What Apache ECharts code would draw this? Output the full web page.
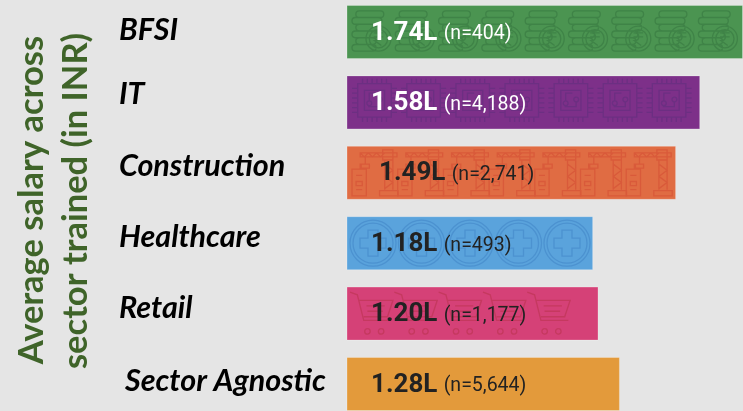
<!DOCTYPE html>
<html><head><meta charset="utf-8">
<style>html,body{margin:0;padding:0;background:#e5e5e5}#c{width:743px;height:411px}</style>
<script src="https://cdn.jsdelivr.net/npm/echarts@6/dist/echarts.min.js"></script>
</head><body><div id="c"></div>
<script>
const sectors = ['BFSI','IT','Construction','Healthcare','Retail','Sector Agnostic'];
const salaryLakh = [1.74,1.58,1.49,1.18,1.20,1.28];
const sampleLabels = ['(n=404)','(n=4,188)','(n=2,741)','(n=493)','(n=1,177)','(n=5,644)'];
const barColors = ['#4b9451','#7d3089','#e06c43','#5aa3dc','#d54177','#e39a3b'];
const iconColors = ['#3f8347','#6c2f82','#d95a3a','#4c92d0','#c5395f',null];
const textColors = ['#ffffff','#ffffff','#222222','#222222','#222222','#222222'];

const COIN = 'M6 1H28a3 3 0 0 1 0 7H6a3 3 0 0 1 0-7ZM2 8H26a3 3 0 0 1 0 7H2a3 3 0 0 1 0-7ZM6 15H26a3 3 0 0 1 0 7H6a3 3 0 0 1 0-7ZM2 22H22a3 3 0 0 1 0 7H2a3 3 0 0 1 0-7ZM6 29H20a3 3 0 0 1 0 7H6a3 3 0 0 1 0-7ZM2 36H20a3 3 0 0 1 0 7H2a3 3 0 0 1 0-7Z'
 +'M13 30a13 13 0 1 0 26 0a13 13 0 1 0-26 0ZM16.500 30a9.500 9.500 0 1 0 19 0a9.500 9.500 0 1 0-19 0ZM21 24H31M21 28H31M22 24C28 24 28 32 22 32L29 37';
const CHIP = 'M6 6H41V41H6ZM13 13H34V34H13ZM11 6V1M16 6V1M21 6V1M26 6V1M31 6V1M36 6V1M11 41V46M16 41V46M21 41V46M26 41V46M31 41V46M36 41V46'
 +'M6 11H0M6 16H0M6 21H0M6 26H0M6 31H0M6 36H0M41 11H47M41 16H47M41 21H47M41 26H47M41 31H47M41 36H47'
 +'M18 24a2.500 2.500 0 1 0 .1 0M29 20a2.500 2.500 0 1 0 .1 0M18 24V16H25M29 25V30H17';
const CRANE = 'M8 1H44V5H8ZM8 1L12 5L16 1L20 5L24 1L28 5L32 1M30 -2H40V8H30ZM13 5V12M9 12H17V16H9ZM32 8V37M40 8V37M32 12L40 18L32 24L40 30L32 36M27 38H45V43H27Z'
 +'M0 17H14V43H0ZM8 17V12H14M4 23H10M4 29H10V33H4ZM4 37H10';
const CROSS = 'M0 0m-23 0a23 23 0 1 0 46 0a23 23 0 1 0-46 0M0 0m-20 0a20 20 0 1 0 40 0a20 20 0 1 0-40 0'
 +'M-5 -13H5V-5H13V5H5V13H-5V5H-13V-5H-5Z';
const CART = 'M0 0L8 3L15 31H45M10 9H47L41 27H15M18 15H38M19 21H36M20 27H33M19 40a3 3 0 1 0 .1 0M34 40a3 3 0 1 0 .1 0';

const iconSets = [
  {path:COIN, count:9, pitch:43.3, dx:5, dy:-23, w:39, h:44},
  {path:CHIP, count:7, pitch:49.1, dx:5, dy:-24.500, w:45, h:45},
  {path:CRANE, count:7, pitch:45.7, dx:5, dy:-23, w:46, h:46},
  {path:CROSS, count:5, pitch:48.5, dx:3, dy:-23, w:46, h:46},
  {path:CART, count:5, pitch:44.3, dx:1, dy:-21.500, w:47, h:42},
  null
];
const labelInset = [24,24,32,24,24,24];
const catShift = [[2,0],[8,0],[7,0],[6,0],[5,0],[3,6]];

const chart = echarts.init(document.getElementById('c'));
const axisMin = 0.26, axisMax = 1.74;
const richCats = {};
sectors.forEach((s,i)=>{
  richCats['c'+i] = {fontFamily:'Lato',fontWeight:'bold',fontStyle:'italic',fontSize:30.5,color:'#000',
    padding:[0,0,catShift[i][0]*2,catShift[i][1]]};
});
chart.setOption({
  animation:false,
  backgroundColor:'#e5e5e5',
  grid:{left:347,width:396,top:-3.2,height:422.4,containLabel:false,outerBoundsMode:'none'},
  xAxis:{type:'value',min:axisMin,max:axisMax,show:false},
  yAxis:{type:'category',inverse:true,data:sectors,
    axisLine:{show:false},axisTick:{show:false},
    axisLabel:{margin:228,align:'left',hideOverlap:false,interval:0,
      formatter:(v,i)=>'{c'+i+'|'+v+'}',rich:richCats}},
  graphic:[
    {type:'text',x:32,y:200,rotation:Math.PI/2,originX:0,originY:0,
     style:{text:'Average salary across',font:'bold 34.5px Lato',fill:'#3f6429',align:'center',verticalAlign:'middle'}},
    {type:'text',x:76,y:201,rotation:Math.PI/2,originX:0,originY:0,
     style:{text:'sector trained (in INR)',font:'bold 34.5px Lato',fill:'#3f6429',align:'center',verticalAlign:'middle'}}
  ],
  series:[
    {type:'bar',barWidth:54,z:2,
     data:salaryLakh.map((v,i)=>({value:v,itemStyle:{color:barColors[i],borderColor:'rgba(255,255,255,0.25)',borderWidth:1}}))},
    {type:'custom',z:3,silent:true,
     encode:{x:0,y:1},
     data:salaryLakh.map((v,i)=>[v,i]),
     renderItem:(params,api)=>{
       const i=api.value(1), p=api.coord([axisMin,i]), children=[];
       const set=iconSets[i];
       if(set){
         for(let k=0;k<set.count;k++){
           children.push({type:'path',
             shape:{pathData:set.path,layout:'center',x:p[0]+set.dx+k*set.pitch,y:p[1]+set.dy,width:set.w,height:set.h},
             style:{fill:null,stroke:iconColors[i],lineWidth:1.3}});
         }
       }
       children.push({type:'text',x:p[0]+labelInset[i],y:p[1]+1,
         style:{rich:{a:{font:'bold 26px Roboto',fill:textColors[i]},b:{font:'400 19.5px Roboto',fill:textColors[i],padding:[3,0,0,3]}},
           text:'{a|'+salaryLakh[i].toFixed(2)+'L} {b|'+sampleLabels[i]+'}',verticalAlign:'middle',align:'left'}});
       return {type:'group',children};
     }}
  ]
});
</script></body></html>
